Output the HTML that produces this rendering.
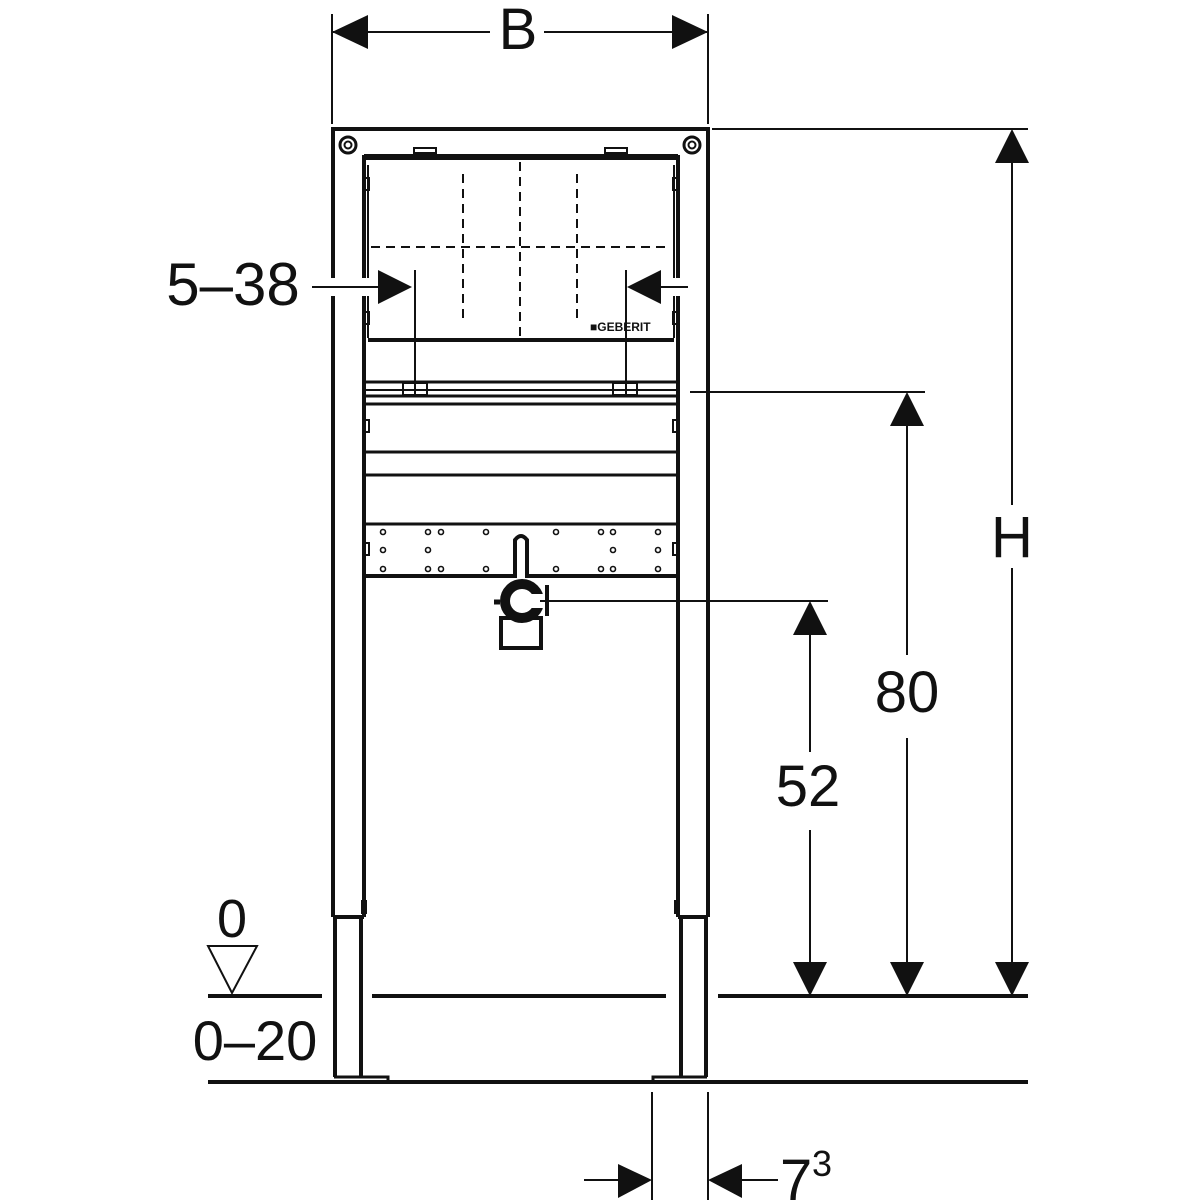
<!DOCTYPE html>
<html><head><meta charset="utf-8"><style>html,body{margin:0;padding:0;background:#fff}svg{display:block}</style></head>
<body>
<svg width="1200" height="1200" viewBox="0 0 1200 1200" xmlns="http://www.w3.org/2000/svg" font-family="Liberation Sans, sans-serif">
<rect width="1200" height="1200" fill="#fff"/>
<g stroke="#111" fill="none">
<line x1="332" y1="14" x2="332" y2="124" stroke-width="2"/>
<line x1="708" y1="14" x2="708" y2="124" stroke-width="2"/>
<line x1="332" y1="32" x2="490" y2="32" stroke-width="2"/>
<line x1="544" y1="32" x2="708" y2="32" stroke-width="2"/>
</g>
<g fill="#111">
<polygon points="332,32 368,15 368,49"/>
<polygon points="708,32 672,15 672,49"/>
</g>
<text x="518" y="49" font-size="58" text-anchor="middle" fill="#111">B</text>

<g stroke="#111" fill="none" stroke-width="4">
<path d="M333,917 V129 H708 V917"/>
<line x1="364" y1="155" x2="364" y2="917"/>
<line x1="678" y1="155" x2="678" y2="917"/>
<line x1="364" y1="157" x2="678" y2="157" stroke-width="6"/>
<line x1="333" y1="917" x2="364" y2="917"/>
<line x1="678" y1="917" x2="708" y2="917"/>
<path d="M335,917 V1077 M361,917 V1077"/>
<path d="M681,917 V1077 M706,917 V1077"/>
<path d="M334,1077 H388 V1082" stroke-width="3"/>
<path d="M707,1077 H653 V1082" stroke-width="3"/>
<line x1="368" y1="165" x2="368" y2="338" stroke-width="2"/>
<line x1="674" y1="165" x2="674" y2="338" stroke-width="2"/>
<line x1="368" y1="340" x2="674" y2="340" stroke-width="4"/>
<line x1="366" y1="382" x2="678" y2="382" stroke-width="3"/>
<line x1="366" y1="390" x2="678" y2="390" stroke-width="2"/>
<line x1="366" y1="396" x2="678" y2="396" stroke-width="3"/>
<line x1="366" y1="404" x2="678" y2="404" stroke-width="3"/>
<line x1="366" y1="452" x2="678" y2="452" stroke-width="3"/>
<line x1="366" y1="475" x2="678" y2="475" stroke-width="3"/>
<line x1="366" y1="524" x2="678" y2="524" stroke-width="3"/>
<line x1="366" y1="576" x2="678" y2="576" stroke-width="4"/>
</g>
<rect x="325" y="278" width="50" height="18" fill="#fff"/>
<rect x="662" y="278" width="30" height="18" fill="#fff"/>
<g stroke="#111" fill="none">
<circle cx="348" cy="145" r="8" stroke-width="3"/><circle cx="348" cy="145" r="3.5" stroke-width="2"/>
<circle cx="692" cy="145" r="8" stroke-width="3"/><circle cx="692" cy="145" r="3.5" stroke-width="2"/>
<rect x="414" y="148" width="22" height="5" stroke-width="2"/>
<rect x="605" y="148" width="22" height="5" stroke-width="2"/>
<g stroke-width="2" stroke-dasharray="9,6">
<line x1="520" y1="162" x2="520" y2="338"/>
<line x1="463" y1="174" x2="463" y2="324"/>
<line x1="577" y1="174" x2="577" y2="324"/>
<line x1="371" y1="247" x2="670" y2="247"/>
</g>
<g stroke-width="2">
<rect x="365" y="178" width="4" height="12"/><rect x="673" y="178" width="4" height="12"/>
<rect x="365" y="312" width="4" height="12"/><rect x="673" y="312" width="4" height="12"/>
<rect x="365" y="420" width="4" height="12"/><rect x="673" y="420" width="4" height="12"/>
<rect x="365" y="543" width="4" height="12"/><rect x="673" y="543" width="4" height="12"/>
<rect x="362" y="901" width="4" height="12"/><rect x="675" y="901" width="4" height="12"/>
<rect x="403" y="383" width="24" height="12"/><rect x="613" y="383" width="24" height="12"/>
</g>
<line x1="415" y1="270" x2="415" y2="394" stroke-width="2"/>
<line x1="626" y1="270" x2="626" y2="394" stroke-width="2"/>
<g stroke-width="1.6">
<circle cx="383" cy="532" r="2.5"/><circle cx="428" cy="532" r="2.5"/><circle cx="441" cy="532" r="2.5"/><circle cx="486" cy="532" r="2.5"/><circle cx="556" cy="532" r="2.5"/><circle cx="601" cy="532" r="2.5"/><circle cx="613" cy="532" r="2.5"/><circle cx="658" cy="532" r="2.5"/>
<circle cx="383" cy="550" r="2.5"/><circle cx="428" cy="550" r="2.5"/><circle cx="613" cy="550" r="2.5"/><circle cx="658" cy="550" r="2.5"/>
<circle cx="383" cy="569" r="2.5"/><circle cx="428" cy="569" r="2.5"/><circle cx="441" cy="569" r="2.5"/><circle cx="486" cy="569" r="2.5"/><circle cx="556" cy="569" r="2.5"/><circle cx="601" cy="569" r="2.5"/><circle cx="613" cy="569" r="2.5"/><circle cx="658" cy="569" r="2.5"/>
</g>
<path d="M515,578 V540 Q521,532 527,540 V578" stroke-width="4" fill="#fff"/>
<rect x="501" y="618" width="40" height="30" stroke-width="4" fill="#fff"/>
<circle cx="522" cy="601" r="17" stroke-width="10" fill="#fff"/>
<rect x="530" y="594" width="20" height="14" fill="#fff" stroke="none"/>
<line x1="547" y1="585" x2="547" y2="616" stroke-width="4"/>
<line x1="494" y1="602" x2="500" y2="602" stroke-width="5"/>
</g>
<line x1="540" y1="601" x2="828" y2="601" stroke="#111" stroke-width="2"/>
<text x="590" y="331" font-size="12" font-weight="bold" fill="#111">■GEBERIT</text>

<text x="233" y="305" font-size="60" text-anchor="middle" fill="#111">5–38</text>
<g stroke="#111" stroke-width="2">
<line x1="312" y1="287" x2="378" y2="287"/>
<line x1="660" y1="287" x2="688" y2="287"/>
</g>
<g fill="#111">
<polygon points="412,287 378,270 378,304"/>
<polygon points="627,287 661,270 661,304"/>
</g>

<g stroke="#111" stroke-width="2">
<line x1="712" y1="129" x2="1028" y2="129"/>
<line x1="1012" y1="160" x2="1012" y2="505"/>
<line x1="1012" y1="568" x2="1012" y2="964"/>
<line x1="690" y1="392" x2="925" y2="392"/>
<line x1="907" y1="424" x2="907" y2="655"/>
<line x1="907" y1="738" x2="907" y2="964"/>
<line x1="810" y1="633" x2="810" y2="752"/>
<line x1="810" y1="830" x2="810" y2="964"/>
</g>
<g fill="#111">
<polygon points="1012,129 995,163 1029,163"/>
<polygon points="1012,996 995,962 1029,962"/>
<polygon points="907,392 890,426 924,426"/>
<polygon points="907,996 890,962 924,962"/>
<polygon points="810,601 793,635 827,635"/>
<polygon points="810,996 793,962 827,962"/>
</g>
<text x="1012" y="557" font-size="58" text-anchor="middle" fill="#111">H</text>
<text x="907" y="712" font-size="58" text-anchor="middle" fill="#111">80</text>
<text x="808" y="806" font-size="58" text-anchor="middle" fill="#111">52</text>

<g stroke="#111" stroke-width="4">
<line x1="208" y1="996" x2="322" y2="996"/>
<line x1="372" y1="996" x2="666" y2="996"/>
<line x1="718" y1="996" x2="1028" y2="996"/>
<line x1="208" y1="1082" x2="1028" y2="1082"/>
</g>
<polygon points="208,946 257,946 232,993" fill="none" stroke="#111" stroke-width="2"/>
<text x="232" y="937" font-size="54" text-anchor="middle" fill="#111">0</text>
<text x="255" y="1060" font-size="56" text-anchor="middle" fill="#111">0–20</text>

<g stroke="#111" stroke-width="2">
<line x1="652" y1="1092" x2="652" y2="1200"/>
<line x1="708" y1="1092" x2="708" y2="1200"/>
<line x1="584" y1="1180" x2="620" y2="1180"/>
<line x1="742" y1="1180" x2="778" y2="1180"/>
</g>
<g fill="#111">
<polygon points="652,1180 618,1164 618,1198"/>
<polygon points="708,1180 742,1164 742,1198"/>
</g>
<text x="780" y="1200" font-size="58" fill="#111">7</text>
<text x="812" y="1176" font-size="36" fill="#111">3</text>
</svg>
</body></html>
